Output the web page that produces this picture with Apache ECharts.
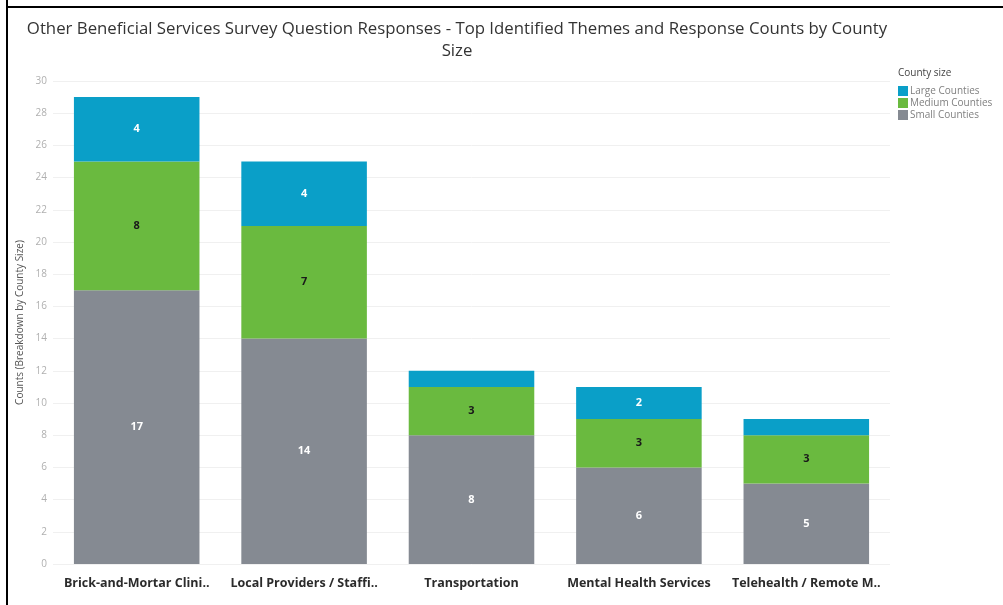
<!DOCTYPE html>
<html>
<head>
<meta charset="utf-8">
<script src="https://cdn.jsdelivr.net/npm/echarts@6/dist/echarts.min.js"></script>
<style>
  html, body { margin: 0; padding: 0; background: #fff; }
  #chart { width: 1003px; height: 605px; }
</style>
</head>
<body>
<div id="chart"></div>
<script>
// Survey themes and response counts, stacked by county size
const themes = ['Brick-and-Mortar Clini..', 'Local Providers / Staffi..', 'Transportation', 'Mental Health Services', 'Telehealth / Remote M..'];
const smallCounties = [17, 14, 8, 6, 5];
const mediumCounties = [8, 7, 3, 3, 3];
const largeCounties = [4, 4, 1, 2, 1];
const seriesNames = ['Large Counties', 'Medium Counties', 'Small Counties'];
const yTicks = [0, 2, 4, 6, 8, 10, 12, 14, 16, 18, 20, 22, 24, 26, 28, 30];

const FONT = '"Open Sans", "Noto Sans", sans-serif';
const BLUE = '#0a9fc8';
const GREEN = '#6aba3f';
const GREY = '#858a92';

function segLabel(color) {
  return {
    show: true,
    position: 'inside',
    fontFamily: FONT,
    fontSize: 11,
    fontWeight: 'bold',
    color: color,
    formatter: p => (p.value >= 2 ? String(p.value) : '')
  };
}

const chart = echarts.init(document.getElementById('chart'), null, { renderer: 'canvas' });

chart.setOption({
  animation: false,
  backgroundColor: '#ffffff',
  title: {
    text: 'Other Beneficial Services Survey Question Responses - Top Identified Themes and Response Counts by County\nSize',
    left: 452,
    top: 13,
    textAlign: 'center',
    textStyle: {
      fontFamily: FONT,
      fontSize: 16.8,
      fontWeight: 'normal',
      color: '#333333',
      lineHeight: 22,
      align: 'center'
    }
  },
  legend: {
    data: seriesNames,
    orient: 'vertical',
    left: 893,
    top: 81,
    itemWidth: 10,
    itemHeight: 10,
    itemGap: 2,
    icon: 'rect',
    selectedMode: false,
    textStyle: { fontFamily: FONT, fontSize: 10, color: '#808080', padding: [0, 0, 0, -3] }
  },
  graphic: [
    { type: 'line', shape: { x1: 7, y1: 0, x2: 7, y2: 605 }, style: { stroke: '#000', lineWidth: 2 } },
    { type: 'line', shape: { x1: 6, y1: 7, x2: 1003, y2: 7 }, style: { stroke: '#000', lineWidth: 2 } },
    {
      type: 'text', left: 898, top: 68,
      style: { text: 'County size', fontFamily: FONT, fontSize: 10, fill: '#444444' }
    }
  ],
  grid: { left: 53, right: 113, top: 81, bottom: 41, containLabel: false },
  xAxis: {
    type: 'category',
    data: themes,
    axisLine: { show: false },
    axisTick: { show: false },
    axisLabel: {
      interval: 0,
      margin: 13,
      fontFamily: FONT,
      fontSize: 12.5,
      fontWeight: 'bold',
      color: '#2b2b2b'
    }
  },
  yAxis: {
    type: 'value',
    min: yTicks[0],
    max: yTicks[yTicks.length - 1],
    interval: 2,
    name: 'Counts (Breakdown by County Size)',
    nameLocation: 'middle',
    nameGap: 24,
    nameTextStyle: { fontFamily: FONT, fontSize: 10, color: '#555555' },
    axisLine: { show: false },
    axisTick: { show: false },
    axisLabel: { fontFamily: FONT, fontSize: 10, color: '#b0b0b0', margin: 6 },
    splitLine: { lineStyle: { color: '#f0f0f0', width: 1 } }
  },
  series: [
    {
      name: 'Small Counties', type: 'bar', stack: 'total', data: smallCounties,
      barWidth: '75%', itemStyle: { color: GREY }, label: segLabel('#ffffff')
    },
    {
      name: 'Medium Counties', type: 'bar', stack: 'total', data: mediumCounties,
      barWidth: '75%', itemStyle: { color: GREEN }, label: segLabel('#1a1a1a')
    },
    {
      name: 'Large Counties', type: 'bar', stack: 'total', data: largeCounties,
      barWidth: '75%', itemStyle: { color: BLUE }, label: segLabel('#ffffff')
    }
  ]
});
</script>
</body>
</html>
